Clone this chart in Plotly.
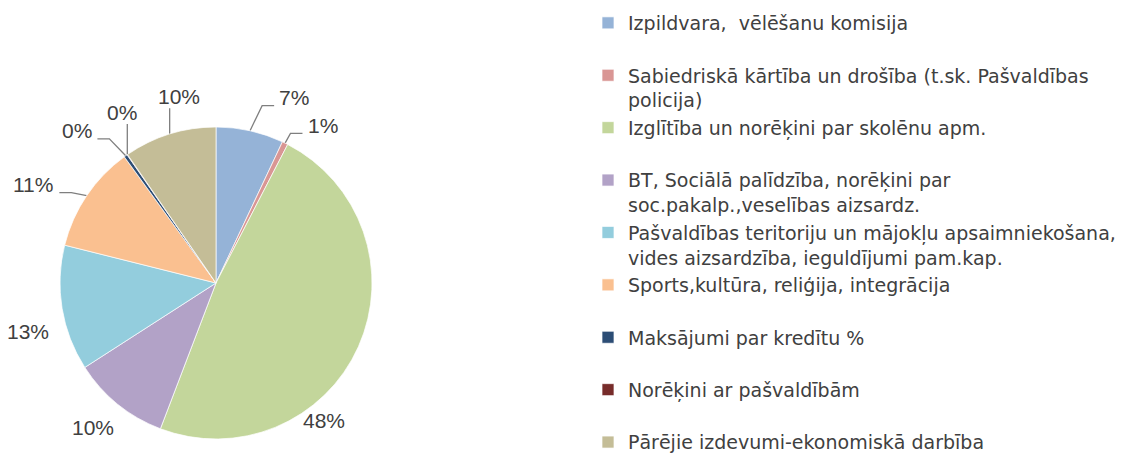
import math
import plotly.graph_objects as go

# data
categories = [
    "Izpildvara,  vēlēšanu komisija",
    "Sabiedriskā kārtība un drošība (t.sk. Pašvaldības<br>policija)",
    "Izglītība un norēķini par skolēnu apm.",
    "BT, Sociālā palīdzība, norēķini par<br>soc.pakalp.,veselības aizsardz.",
    "Pašvaldības teritoriju un mājokļu apsaimniekošana,<br>vides aizsardzība, ieguldījumi pam.kap.",
    "Sports,kultūra, reliģija, integrācija",
    "Maksājumi par kredītu %",
    "Norēķini ar pašvaldībām",
    "Pārējie izdevumi-ekonomiskā darbība",
]
shares = [7.0, 0.6, 48.2, 10.1, 13.0, 11.1, 0.35, 0.05, 9.6]
colors = ["#95B3D7", "#D99694", "#C3D69B", "#B2A2C7", "#93CDDD",
          "#FAC090", "#2C4D75", "#772C2A", "#C4BD97"]

W, H = 1128, 461
cx, cy, R = 216, 283, 156   # pie centre / radius in px

# label placement: (angle offset from slice middle, radius factor, leader style)
label_place = [(10.3, 1.29, "elbow"), (7.8, 1.22, "elbow"), (27.7, 1.12, None),
               (1.4, 1.22, None), (-5.2, 1.245, None), (-5.7, 1.33, "elbow"),
               (-7.0, 1.32, "elbow"), (5.9, 1.25, "vert"), (6.0, 1.22, "vert")]

total = sum(shares)
lab_fs = 21
gray = "#404040"


def pt(ang, r):
    a = math.radians(ang)
    return cx + r * math.sin(a), cy - r * math.cos(a)


def text_w(s, fs):
    return sum(0.889 if c == "%" else 0.556 for c in s) * fs


annotations = []
lx, ly = [], []
start = 0.0
for v, (dang, k, style) in zip(shares, label_place):
    ang = 360 * v / total
    mid = start + ang / 2
    start += ang
    txt = "%d%%" % round(100 * v / total)
    tx, ty = pt(mid + dang, k * R)
    annotations.append(dict(x=tx, y=ty, xref="x", yref="y", text=txt, showarrow=False,
                            font=dict(family="Liberation Sans", size=lab_fs, color=gray)))
    if style is None:
        continue
    px, py = pt(mid, R)
    if style == "vert":
        lx += [px, px, None]
        ly += [py, ty + 12, None]
    else:
        side = 1 if tx > px else -1
        hw = text_w(txt, lab_fs) / 2
        ex = tx - side * (hw + 5)
        ey = ty + 8
        lx += [px, ex - side * 12, ex, None]
        ly += [py, ey, ey, None]

legend_labels = [c if "<br>" in c or i == len(categories) - 1 else c + "<br> "
                 for i, c in enumerate(categories)]

fig = go.Figure()
fig.add_trace(go.Pie(
    labels=legend_labels, values=shares, sort=False, direction="clockwise",
    rotation=0, textinfo="none", hoverinfo="label+percent",
    marker=dict(colors=colors, line=dict(color="white", width=0.7)),
    domain=dict(x=[(cx - R) / W, (cx + R) / W], y=[1 - (cy + R) / H, 1 - (cy - R) / H]),
))
fig.add_trace(go.Scatter(x=lx, y=ly, mode="lines", line=dict(color="#7F7F7F", width=1.3),
                         showlegend=False, hoverinfo="skip"))

fig.update_layout(
    width=W, height=H, margin=dict(l=0, r=0, t=0, b=0),
    paper_bgcolor="white", plot_bgcolor="white",
    xaxis=dict(range=[0, W], visible=False, fixedrange=True),
    yaxis=dict(range=[H, 0], visible=False, fixedrange=True),
    annotations=annotations,
    legend=dict(x=588 / W, y=0.975, xanchor="left", yanchor="top", valign="top",
                font=dict(family="DejaVu Sans", size=19, color=gray),
                bgcolor="rgba(0,0,0,0)"),
    font=dict(family="Liberation Sans"),
)
fig.write_html("out.html", config={"displayModeBar": False},
               post_script="document.body.style.margin='0';")
